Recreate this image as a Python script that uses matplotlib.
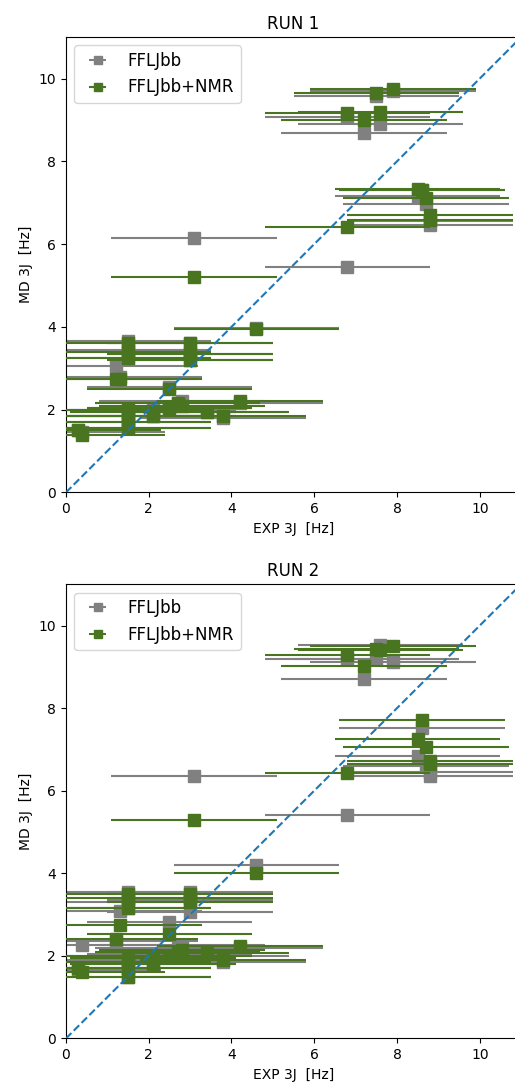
import matplotlib
matplotlib.use("Agg")
import matplotlib.pyplot as plt

GRAY = "gray"
GREEN = "#4a7520"
XERR = 2.0

# experimental 3J couplings (shared by both runs)
exp_j = [0.3, 0.4, 1.2, 1.3, 1.5, 1.5, 1.5, 1.5, 1.5, 1.5, 1.5, 2.1, 2.1, 2.5, 2.5,
         2.7, 2.8, 3.0, 3.0, 3.0, 3.1, 3.4, 3.8, 4.2, 4.6, 6.8, 6.8, 7.2, 7.5, 7.6,
         7.9, 8.5, 8.6, 8.7, 8.8, 8.8]

run1_ff = [1.50, 1.45, 3.05, 2.80, 3.65, 3.45, 3.25, 2.00, 1.85, 1.70, 1.55, 2.00, 1.85, 2.55, 2.05,
           2.15, 2.20, 3.60, 3.35, 3.20, 6.15, 1.95, 1.80, 2.15, 3.97, 5.45, 9.08, 8.68, 9.58, 8.89,
           9.70, 7.16, 7.30, 6.96, 6.47, 6.55]
run1_nmr = [1.50, 1.40, 2.75, 2.75, 3.60, 3.40, 3.25, 2.00, 1.85, 1.70, 1.55, 1.95, 1.85, 2.50, 2.05,
            2.15, 2.10, 3.60, 3.35, 3.20, 5.20, 1.95, 1.85, 2.20, 3.95, 6.42, 9.16, 9.00, 9.66, 9.19,
            9.74, 7.34, 7.30, 7.12, 6.71, 6.59]

run2_ff = [1.65, 2.26, 2.35, 3.08, 3.55, 3.30, 3.15, 2.00, 1.90, 1.70, 1.50, 1.95, 1.80, 2.82, 2.05,
           2.20, 2.26, 3.55, 3.35, 3.07, 6.35, 2.00, 1.85, 2.20, 4.20, 5.41, 9.20, 8.70, 9.18, 9.52,
           9.12, 6.84, 7.53, 6.60, 6.35, 6.45]
run2_nmr = [1.70, 1.60, 2.42, 2.74, 3.50, 3.40, 3.15, 2.00, 1.85, 1.70, 1.50, 1.95, 1.80, 2.54, 2.00,
            2.10, 2.14, 3.50, 3.40, 3.30, 5.29, 2.06, 1.90, 2.23, 4.01, 6.42, 9.28, 9.01, 9.43, 9.40,
            9.50, 7.24, 7.72, 7.05, 6.72, 6.65]

runs = [("RUN 1", run1_ff, run1_nmr), ("RUN 2", run2_ff, run2_nmr)]

fig = plt.figure(figsize=(5.15, 10.92), dpi=100)
boxes = [(0.128, 0.549, 0.884, 0.417), (0.128, 0.049, 0.884, 0.416)]

for (title, ff, nmr), box in zip(runs, boxes):
    ax = fig.add_axes(box)
    ax.errorbar(exp_j, ff, xerr=XERR, fmt="s", color=GRAY, ms=8, lw=1.5,
                label="FFLJbb", zorder=2)
    ax.errorbar(exp_j, nmr, xerr=XERR, fmt="s", color=GREEN, ms=8, lw=1.5,
                label="FFLJbb+NMR", zorder=3)
    ax.plot([0, 11], [0, 11], "--", color="tab:blue", lw=1.5, zorder=4)
    ax.set_xlim(0, 11)
    ax.set_ylim(0, 11)
    ax.set_xticks([0, 2, 4, 6, 8, 10])
    ax.set_yticks([0, 2, 4, 6, 8, 10])
    ax.set_title(title)
    ax.set_xlabel("EXP 3J  [Hz]")
    ax.set_ylabel("MD 3J  [Hz]")
    ax.legend(loc="upper left", fontsize=12, markerscale=0.75)

fig.savefig("out.png", dpi=100)
